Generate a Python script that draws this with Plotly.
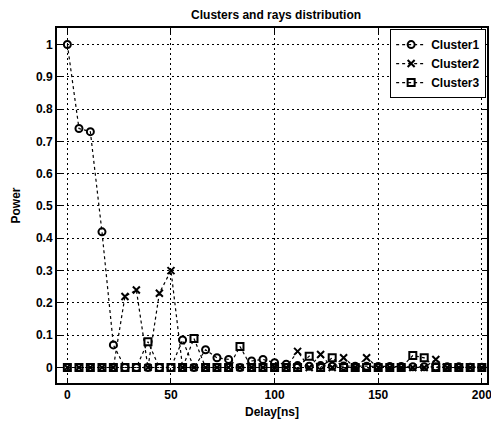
import plotly.graph_objects as go

delays = [0, 5.6, 11.1, 16.7, 22.2, 27.8, 33.3, 38.9, 44.4, 50, 55.6, 61.1, 66.7, 72.2,
          77.8, 83.3, 88.9, 94.4, 100, 105.6, 111.1, 116.7, 122.2, 127.8, 133.3, 138.9,
          144.4, 150, 155.6, 161.1, 166.7, 172.2, 177.8, 183.3, 188.9, 194.4, 200]

cluster1 = [1.0, 0.74, 0.73, 0.42, 0.07, 0, 0, 0, 0, 0, 0.085, 0, 0.055, 0.03, 0.025, 0,
            0.02, 0.025, 0.015, 0.01, 0.006, 0.004, 0.006, 0.004, 0.005, 0.004, 0.004, 0.003,
            0.003, 0.003, 0.002, 0.002, 0.002, 0.002, 0.002, 0.001, 0.001]
cluster2 = [0, 0, 0, 0, 0, 0.22, 0.24, 0, 0.23, 0.30, 0, 0, 0, 0, 0, 0, 0, 0, 0, 0,
            0.05, 0, 0.04, 0, 0.03, 0, 0.03, 0, 0, 0, 0, 0, 0.025, 0, 0, 0, 0]
cluster3 = [0, 0, 0, 0, 0, 0, 0, 0.08, 0, 0, 0, 0.09, 0, 0, 0, 0.065, 0, 0, 0, 0,
            0, 0.035, 0, 0.03, 0, 0, 0, 0, 0, 0, 0.037, 0.03, 0, 0, 0, 0, 0]

names = ["Cluster1", "Cluster2", "Cluster3"]
series = [cluster1, cluster2, cluster3]
symbols = ["circle-open", "x-thin-open", "square-open"]

font = dict(family="Liberation Sans, Arial, sans-serif", size=12, color="black", weight="bold")

fig = go.Figure()
for name, ys, sym in zip(names, series, symbols):
    fig.add_trace(go.Scatter(
        x=delays, y=ys, name=name, mode="lines+markers",
        line=dict(color="black", width=1.2, dash="dot"),
        marker=dict(symbol=sym, size=7, color="black", line=dict(color="black", width=2)),
    ))

axis_common = dict(
    showline=True, linecolor="black", linewidth=2, mirror="ticks",
    ticks="inside", ticklen=5, tickcolor="black", tickwidth=1,
    showgrid=True, gridcolor="black", gridwidth=1, griddash="2px,3px",
    zeroline=False, tickfont=font,
)

# the page body adds an 8px offset, so the figure is 8px smaller on each side
fig.update_layout(
    width=491, height=416,
    margin=dict(l=45, r=7, t=20, b=34),
    paper_bgcolor="white", plot_bgcolor="white",
    title=dict(text="Clusters and rays distribution", x=0.546, xanchor="center",
               y=0.983, yanchor="middle", font=font),
    xaxis=dict(range=[-5, 202.5], tickvals=[0, 50, 100, 150, 200],
               title=dict(text="Delay[ns]", font=font, standoff=6), **axis_common),
    yaxis=dict(range=[-0.048, 1.051], tickvals=[0, 0.1, 0.2, 0.3, 0.4, 0.5, 0.6, 0.7, 0.8, 0.9, 1],
               ticktext=["0", "0.1", "0.2", "0.3", "0.4", "0.5", "0.6", "0.7", "0.8", "0.9", "1"],
               title=dict(text="Power", font=font, standoff=13), **axis_common),
    legend=dict(x=0.998, y=0.997, xanchor="right", yanchor="top", bgcolor="white",
                bordercolor="black", borderwidth=1, font=font, tracegroupgap=0,
                itemwidth=30),
    showlegend=True,
)

fig.write_html("out.html")
